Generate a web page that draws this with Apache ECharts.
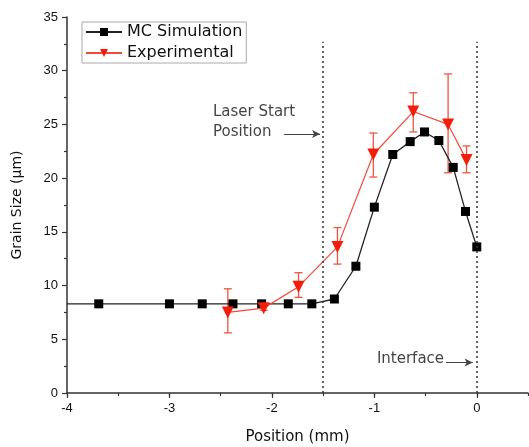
<!DOCTYPE html>
<html>
<head>
    <meta charset="UTF-8">
    <title>Grain size</title>
    <script src="https://cdn.jsdelivr.net/npm/echarts@6/dist/echarts.min.js"></script>
    <style>
        html, body { margin: 0; padding: 0; background: #fff; }
        #chart { width: 529px; height: 447px; }
    </style>
</head>
<body>
<div id="chart"></div>
<script>
    // MC simulation (black squares)
    const mcX = [-3.69, -3.0, -2.68, -2.38, -2.10, -1.84, -1.61, -1.39, -1.18, -1.0, -0.82, -0.65, -0.51, -0.37, -0.23, -0.11, 0]
    const mcY = [8.3, 8.3, 8.3, 8.3, 8.3, 8.3, 8.3, 8.75, 11.8, 17.3, 22.2, 23.4, 24.3, 23.5, 21.0, 16.9, 13.6]
    const mcStart = [-4, 8.3] // line runs in from the axis

    // experimental (red triangles + error bars)
    const expX = [-2.43, -2.08, -1.74, -1.36, -1.01, -0.62, -0.28, -0.10]
    const expY = [7.5, 7.9, 9.9, 13.6, 22.2, 26.2, 25.0, 21.7]
    const expLo = [5.6, 7.7, 8.9, 12.0, 20.1, 24.3, 20.5, 20.5]
    const expHi = [9.7, 8.1, 11.2, 15.4, 24.2, 27.95, 29.7, 23.0]

    const markerX = [-1.5, 0]   // dotted guide lines
    const markerTop = 32.7
    const notes = [
        {name: 'Laser Start', x: -2.575, y: 26.15},
        {name: 'Position', x: -2.575, y: 24.3},
        {name: 'Interface', x: -0.975, y: 3.2},
    ]
    const arrows = [
        [[-1.88, 24.1], [-1.53, 24.1]],
        [[-0.30, 2.85], [-0.04, 2.85]],
    ]

    const FONT = 'Liberation Sans'
    const WIDE = 'DejaVu Sans'
    const RED = '#f51d0a'
    const INK = '#111'

    let chart = echarts.init(document.getElementById('chart'), null, {renderer: 'canvas'})

    let mcData = [{value: mcStart, symbol: 'none'}].concat(mcX.map((x, i) => [x, mcY[i]]))
    let expData = expX.map((x, i) => [x, expY[i]])
    let errData = expX.map((x, i) => [x, expLo[i], expHi[i]])

    let option = {
        animation: false,
        backgroundColor: '#fff',
        textStyle: {fontFamily: FONT},
        grid: {left: 67, right: 1, top: 17, bottom: 54, outerBoundsMode: 'none', containLabel: false},
        legend: {
            left: 82, top: 22,
            orient: 'vertical',
            data: ['MC Simulation', 'Experimental'],
            borderColor: '#aaa', borderWidth: 1,
            padding: [2, 4, 2, 3],
            itemGap: 5,
            itemWidth: 36, itemHeight: 10,
            textStyle: {fontFamily: WIDE, fontSize: 16, color: INK},
        },
        xAxis: [{
            type: 'value', min: -4, max: 0.5, interval: 1,
            name: 'Position (mm)', nameLocation: 'middle', nameGap: 37,
            nameTextStyle: {fontFamily: WIDE, fontSize: 15, color: INK},
            axisLine: {onZero: false, lineStyle: {color: '#333', width: 1.5}},
            axisTick: {length: 5, lineStyle: {color: '#333', width: 1.2}},
            axisLabel: {showMaxLabel: false, fontFamily: FONT, fontSize: 13, color: INK, margin: 9},
            splitLine: {show: false},
        }, {
            type: 'value', min: -4, max: 0.5, interval: 0.5, position: 'bottom',
            axisLine: {show: false, onZero: false},
            axisTick: {show: true, length: 3, lineStyle: {color: '#333', width: 1.2}},
            axisLabel: {show: false},
            splitLine: {show: false},
        }],
        yAxis: {
            type: 'value', min: 0, max: 35, interval: 5,
            name: 'Grain Size (\u03bcm)', nameLocation: 'middle', nameGap: 43,
            nameTextStyle: {fontFamily: WIDE, fontSize: 14, color: INK},
            axisLine: {show: true, onZero: false, lineStyle: {color: '#333', width: 1.5}},
            axisTick: {length: 5, lineStyle: {color: '#333', width: 1.2}},
            minorTick: {show: true, splitNumber: 2, length: 3, lineStyle: {color: '#333', width: 1.2}},
            axisLabel: {fontFamily: FONT, fontSize: 13, color: INK, margin: 9},
            splitLine: {show: false},
        },
        series: [
            {
                name: 'MC Simulation', type: 'line', data: mcData,
                symbol: 'rect', symbolSize: 9,
                itemStyle: {color: '#000'},
                lineStyle: {color: '#222', width: 1.3},
                z: 3,
                markLine: {
                    silent: true, symbol: 'none', label: {show: false},
                    lineStyle: {type: [2, 3], color: '#333', width: 1.5},
                    data: markerX.map(x => [{coord: [x, 0]}, {coord: [x, markerTop]}]),
                },
            },
            {
                name: 'Experimental', type: 'line', data: expData,
                symbol: 'triangle', symbolRotate: 180, symbolSize: 12,
                itemStyle: {color: RED},
                lineStyle: {color: '#f04a3a', width: 1.2},
                z: 4,
            },
            {
                name: 'err', type: 'custom', data: errData, z: 2,
                renderItem(params, api) {
                    let lo = api.coord([api.value(0), api.value(1)])
                    let hi = api.coord([api.value(0), api.value(2)])
                    let w = 4
                    let st = {stroke: '#f0553f', lineWidth: 1.3}
                    return {type: 'group', children: [
                        {type: 'line', shape: {x1: lo[0], y1: lo[1], x2: hi[0], y2: hi[1]}, style: st},
                        {type: 'line', shape: {x1: lo[0] - w, y1: lo[1], x2: lo[0] + w, y2: lo[1]}, style: st},
                        {type: 'line', shape: {x1: hi[0] - w, y1: hi[1], x2: hi[0] + w, y2: hi[1]}, style: st},
                    ]}
                },
            },
            {
                name: 'notes', type: 'scatter', silent: true, symbolSize: 0,
                data: notes.map(n => ({name: n.name, value: [n.x, n.y]})),
                label: {show: true, position: 'right', distance: 0, formatter: p => p.name,
                    fontFamily: WIDE, fontSize: 15, color: INK},
                markLine: {
                    silent: true, symbol: ['none', 'arrow'], symbolSize: [6, 8], label: {show: false},
                    lineStyle: {type: 'solid', color: '#444', width: 1},
                    data: arrows.map(a => [{coord: a[0]}, {coord: a[1]}]),
                },
            },
        ],
    }
    chart.setOption(option)
</script>
</body>
</html>
